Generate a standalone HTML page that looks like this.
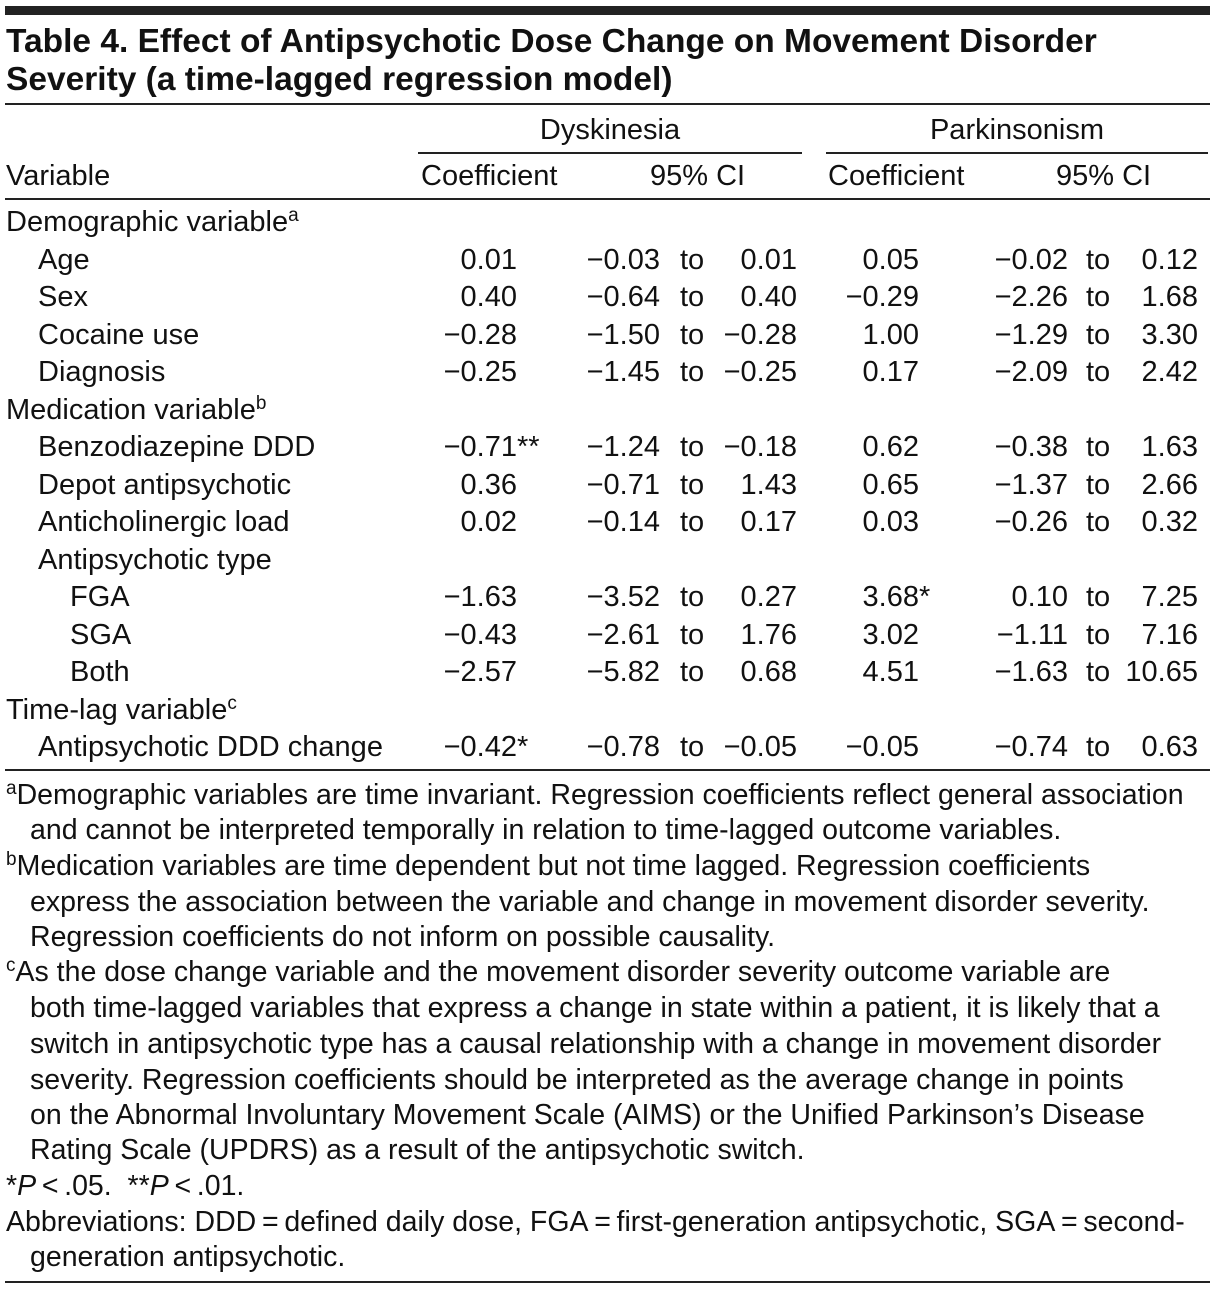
<!DOCTYPE html>
<html><head><meta charset="utf-8"><style>
body{margin:0;background:#fff;}
#t{position:relative;width:1215px;height:1289px;overflow:hidden;font-family:"Liberation Sans",sans-serif;color:#111;font-size:29px;}
.a{position:absolute;white-space:nowrap;line-height:30px;}
.r{position:absolute;white-space:nowrap;line-height:30px;text-align:right;}
.rule{position:absolute;left:5px;width:1205px;background:#222;}
.ttl{font-weight:bold;font-size:33.5px;line-height:36px;}
sup{font-size:19px;vertical-align:10px;line-height:0;}
.fn{font-size:28.5px;}
</style></head><body>
<div id="t">
<div class="rule" style="top:6px;height:9px"></div>
<div class="a ttl" style="left:6px;top:24px">Table 4. Effect of Antipsychotic Dose Change on Movement Disorder</div>
<div class="a ttl" style="left:6px;top:62px">Severity (a time-lagged regression model)</div>
<div class="rule" style="top:103px;height:2px"></div>
<div class="a" style="left:418px;width:384px;text-align:center;top:115px">Dyskinesia</div>
<div class="a" style="left:826px;width:382px;text-align:center;top:115px">Parkinsonism</div>
<div class="rule" style="left:418px;width:384px;top:152px;height:2px"></div>
<div class="rule" style="left:826px;width:382px;top:152px;height:2px"></div>
<div class="a" style="left:6px;top:161px">Variable</div>
<div class="a" style="left:421px;top:161px">Coefficient</div>
<div class="a" style="left:650px;top:161px">95% CI</div>
<div class="a" style="left:828px;top:161px">Coefficient</div>
<div class="a" style="left:1056px;top:161px">95% CI</div>
<div class="rule" style="top:198px;height:2px"></div>
<div id="rows"></div>
<div class="rule" style="top:769px;height:2px"></div>
<div class="a fn" style="left:6px;top:780px"><sup>a</sup>Demographic variables are time invariant. Regression coefficients reflect general association</div>
<div class="a fn" style="left:30px;top:815px">and cannot be interpreted temporally in relation to time-lagged outcome variables.</div>
<div class="a fn" style="left:6px;top:851px"><sup>b</sup>Medication variables are time dependent but not time lagged. Regression coefficients</div>
<div class="a fn" style="left:30px;top:887px">express the association between the variable and change in movement disorder severity.</div>
<div class="a fn" style="left:30px;top:922px">Regression coefficients do not inform on possible causality.</div>
<div class="a fn" style="left:6px;top:957px"><sup>c</sup>As the dose change variable and the movement disorder severity outcome variable are</div>
<div class="a fn" style="left:30px;top:993px">both time-lagged variables that express a change in state within a patient, it is likely that a</div>
<div class="a fn" style="left:30px;top:1029px">switch in antipsychotic type has a causal relationship with a change in movement disorder</div>
<div class="a fn" style="left:30px;top:1065px">severity. Regression coefficients should be interpreted as the average change in points</div>
<div class="a fn" style="left:30px;top:1100px">on the Abnormal Involuntary Movement Scale (AIMS) or the Unified Parkinson’s Disease</div>
<div class="a fn" style="left:30px;top:1135px">Rating Scale (UPDRS) as a result of the antipsychotic switch.</div>
<div class="a fn" style="left:6px;top:1171px">*<i>P</i>&thinsp;&lt;&thinsp;.05. &nbsp;**<i>P</i>&thinsp;&lt;&thinsp;.01.</div>
<div class="a fn" style="left:6px;top:1207px">Abbreviations: DDD&thinsp;=&thinsp;defined daily dose, FGA&thinsp;=&thinsp;first-generation antipsychotic, SGA&thinsp;=&thinsp;second-</div>
<div class="a fn" style="left:30px;top:1242px">generation antipsychotic.</div>
<div class="rule" style="top:1281px;height:2px"></div>
</div>
<script>
const labels=["Demographic variable<sup>a</sup>","Age","Sex","Cocaine use","Diagnosis","Medication variable<sup>b</sup>","Benzodiazepine DDD","Depot antipsychotic","Anticholinergic load","Antipsychotic type","FGA","SGA","Both","Time-lag variable<sup>c</sup>","Antipsychotic DDD change"];
const indents=[0,1,1,1,1,0,1,1,1,1,2,2,2,0,1];
const dysCoef=["","0.01","0.40","−0.28","−0.25","","−0.71**","0.36","0.02","","−1.63","−0.43","−2.57","","−0.42*"];
const dysLo=["","−0.03","−0.64","−1.50","−1.45","","−1.24","−0.71","−0.14","","−3.52","−2.61","−5.82","","−0.78"];
const dysHi=["","0.01","0.40","−0.28","−0.25","","−0.18","1.43","0.17","","0.27","1.76","0.68","","−0.05"];
const parCoef=["","0.05","−0.29","1.00","0.17","","0.62","0.65","0.03","","3.68*","3.02","4.51","","−0.05"];
const parLo=["","−0.02","−2.26","−1.29","−2.09","","−0.38","−1.37","−0.26","","0.10","−1.11","−1.63","","−0.74"];
const parHi=["","0.12","1.68","3.30","2.42","","1.63","2.66","0.32","","7.25","7.16","10.65","","0.63"];
const host=document.getElementById('rows');
function cell(html,x,y,right,name){
  const d=document.createElement('div');
  d.className=right?'r':'a';
  d.innerHTML=html;
  d.style.top=y+'px';
  if(right){d.style.right=(1215-x)+'px';}else{d.style.left=x+'px';}
  
  
  host.appendChild(d);
  return d;
}
labels.forEach((lab,i)=>{
  const y=207+i*37.5;
  cell(lab,6+indents[i]*32,y,false,'row-label');
  function star(v,x,name){
    const m=v.match(/^([^*]*)(\*+)$/);
    if(m){const c=cell(m[1],x,y,true,name);const s=document.createElement('span');s.textContent=m[2];s.style.position='absolute';s.style.left='100%';c.appendChild(s);}
    else if(v) cell(v,x,y,true,name);
  }
  star(dysCoef[i],517,'dyskinesia-coefficient');
  if(dysLo[i]){
    cell(dysLo[i],660,y,true,'dyskinesia-ci-low');
    cell('to',680,y,false,'dyskinesia-ci-to');
    cell(dysHi[i],797,y,true,'dyskinesia-ci-high');
  }
  star(parCoef[i],919,'parkinsonism-coefficient');
  if(parLo[i]){
    cell(parLo[i],1068,y,true,'parkinsonism-ci-low');
    cell('to',1086,y,false,'parkinsonism-ci-to');
    cell(parHi[i],1198,y,true,'parkinsonism-ci-high');
  }
});
</script>
</body></html>
